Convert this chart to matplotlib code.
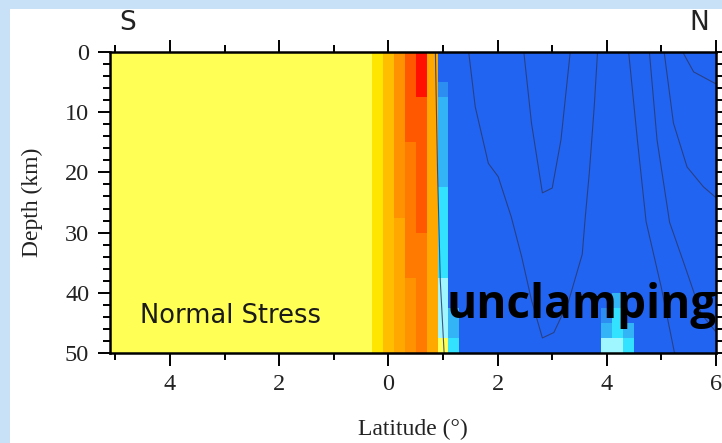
import numpy as np
import matplotlib
matplotlib.use("Agg")
import matplotlib.pyplot as plt
from matplotlib.colors import ListedColormap, BoundaryNorm
from matplotlib.patches import Rectangle
from matplotlib.ticker import MultipleLocator, FuncFormatter

# model grid: 0.2 deg x 2.5 km cells
LAT_EDGES = np.round(np.arange(-5.1, 6.11, 0.2), 2)
DEPTH_EDGES = np.arange(0.0, 50.01, 2.5)

# normal stress classes (negative = unclamping) and their colours
LEVELS = [-1.0, -0.6, -0.4, -0.2, -0.1, 0.1, 0.3, 0.5, 0.6, 0.7, 0.9, 1.1, 1.3]
COLORS = ["#2264f2", "#2c8ef0", "#33b4f6", "#33e2ff", "#a0f6ff",
          "#ffff55", "#ffe600", "#ffbf00", "#ffa800", "#ff9200",
          "#ff7a00", "#ff5800", "#ff1000"]

SOUTH_VALUE = 0.1     # uniform clamping south of the trench
NORTH_VALUE = -1.0    # uniform unclamping north of it
SPLIT_LAT = -0.3

# columns that differ from the background: centre lat -> (top, bottom, value)
BAND_COLUMNS = {
    -0.2: [(0, 50, 0.3)],
    0.0: [(0, 50, 0.5)],
    0.2: [(0, 27.5, 0.7), (27.5, 50, 0.6)],
    0.4: [(0, 15, 1.1), (15, 37.5, 0.9), (37.5, 50, 0.7)],
    0.6: [(0, 7.5, 1.3), (7.5, 30, 1.1), (30, 50, 0.9)],
    0.8: [(0, 50, 0.6)],
    1.0: [(0, 5, -1.0), (5, 7.5, -0.6), (7.5, 22.5, -0.4), (22.5, 37.5, -0.2),
          (37.5, 47.5, -0.1), (47.5, 50, 0.1)],
    1.2: [(42.5, 47.5, -0.4), (47.5, 50, -0.2)],
    4.0: [(42.5, 45, -0.6), (45, 47.5, -0.4), (47.5, 50, -0.1)],
    4.2: [(40, 42.5, -0.4), (42.5, 47.5, -0.2), (47.5, 50, -0.1)],
    4.4: [(45, 47.5, -0.4), (47.5, 50, -0.2)],
}

# contour traces (lat, depth)
LINE_A_LAT = [0.86, 0.90, 0.95, 1.02]
LINE_A_DEP = [0, 20, 38, 50]
LINE_B_LAT = [1.47, 1.59, 1.83, 2.01, 2.25, 2.44, 2.62, 2.82, 3.03, 3.30, 3.55, 3.60, 3.68, 3.77, 3.83]
LINE_B_DEP = [0, 9.1, 18.5, 20.7, 27.4, 34.0, 41.2, 47.5, 46.6, 41.4, 33.6, 28.0, 20.0, 9.0, 0]
LINE_C_LAT = [2.48, 2.62, 2.82, 3.00, 3.16, 3.33]
LINE_C_DEP = [0, 11.8, 23.4, 22.6, 14.6, 0]
LINE_D_LAT = [4.40, 4.56, 4.72, 5.00, 5.24]
LINE_D_DEP = [0, 14.6, 28.2, 39.2, 50.0]
LINE_E_LAT = [4.78, 4.92, 5.15, 5.42, 5.73, 6.0]
LINE_E_DEP = [0, 14.6, 28.3, 35.3, 43.5, 46.5]
LINE_F_LAT = [5.05, 5.22, 5.47, 5.77, 6.0]
LINE_F_DEP = [0, 11.8, 19.1, 22.4, 24.2]
LINE_G_LAT = [5.39, 5.59, 6.0]
LINE_G_DEP = [0, 3.3, 5.3]


def build_grid():
    centers = (LAT_EDGES[:-1] + LAT_EDGES[1:]) / 2
    dcent = (DEPTH_EDGES[:-1] + DEPTH_EDGES[1:]) / 2
    Z = np.where(centers[None, :] < SPLIT_LAT, SOUTH_VALUE, NORTH_VALUE)
    Z = np.repeat(Z, len(dcent), axis=0).astype(float)
    for lat, segs in BAND_COLUMNS.items():
        j = int(np.argmin(np.abs(centers - lat)))
        for top, bot, val in segs:
            rows = (dcent > top) & (dcent < bot)
            Z[rows, j] = val
    return Z


fig = plt.figure(figsize=(7.22, 4.43), dpi=100, facecolor="#c9e1f6")
fig.patches.append(Rectangle((10 / 722, 0), 1, 1 - 9 / 443, transform=fig.transFigure,
                             facecolor="white", edgecolor="none", zorder=-10))

ax = fig.add_axes([110 / 722, 1 - 353 / 443, 606 / 722, 301 / 443])
ax.set_zorder(1)

bounds = [LEVELS[0] - 1] + [(a + b) / 2 for a, b in zip(LEVELS[:-1], LEVELS[1:])] + [LEVELS[-1] + 1]
cmap = ListedColormap(COLORS)
norm = BoundaryNorm(bounds, cmap.N)
ax.pcolormesh(LAT_EDGES, DEPTH_EDGES, build_grid(), cmap=cmap, norm=norm, shading="flat")

for lats, deps in [(LINE_A_LAT, LINE_A_DEP), (LINE_B_LAT, LINE_B_DEP), (LINE_C_LAT, LINE_C_DEP),
                   (LINE_D_LAT, LINE_D_DEP), (LINE_E_LAT, LINE_E_DEP), (LINE_F_LAT, LINE_F_DEP),
                   (LINE_G_LAT, LINE_G_DEP)]:
    ax.plot(lats, deps, color="#2a3a70", linewidth=0.8, alpha=0.85)

ax.set_xlim(-5.1, 6.0)
ax.set_ylim(50, 0)

ax.xaxis.set_major_locator(MultipleLocator(2))
ax.xaxis.set_minor_locator(MultipleLocator(1))
ax.yaxis.set_major_locator(MultipleLocator(10))
ax.yaxis.set_minor_locator(MultipleLocator(2))
ax.xaxis.set_major_formatter(FuncFormatter(lambda v, p: f"{abs(v):g}"))
ax.tick_params(which="both", direction="out", top=True, right=True, color="black",
               width=1.4, labelsize=17.5, pad=6, labelcolor="#222222")
ax.tick_params(which="major", length=9)
ax.tick_params(which="minor", length=5)
for lab in ax.get_xticklabels() + ax.get_yticklabels():
    lab.set_family("Liberation Serif")
for sp in ax.spines.values():
    sp.set_linewidth(1.8)

ax.set_xlabel("Latitude (°)", family="Liberation Serif", fontsize=17, labelpad=17,
              color="#222222")
ax.set_ylabel("Depth (km)", family="Liberation Serif", fontsize=17, labelpad=16,
              color="#222222")

fig.text(128 / 722, 1 - 23 / 443, "S", family="DejaVu Sans", fontsize=19, ha="center",
         va="center", color="#222222")
fig.text(699 / 722, 1 - 23 / 443, "N", family="DejaVu Sans", fontsize=19, ha="center",
         va="center", color="#222222")
fig.text(140 / 722, 1 - 323 / 443, "Normal Stress", family="DejaVu Sans", fontsize=18.5,
         va="baseline", color="#1a1a1a", zorder=5)
fig.text(446 / 722, 1 - 318 / 443, "unclamping", family="Open Sans", fontweight="bold",
         fontsize=33, va="baseline", color="black", zorder=5)

fig.savefig("out.png", dpi=100, facecolor=fig.get_facecolor())
